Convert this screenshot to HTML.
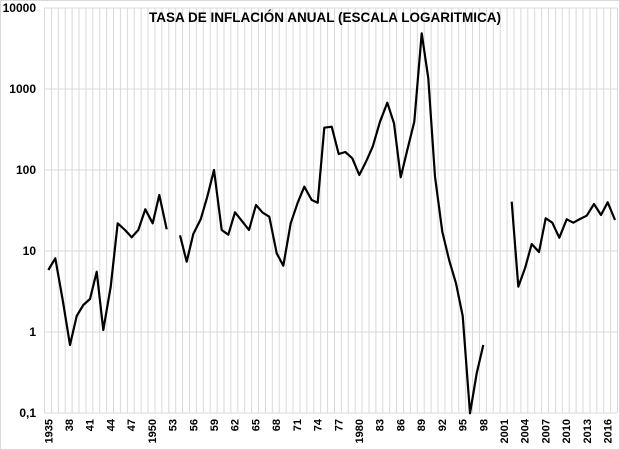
<!DOCTYPE html>
<html><head><meta charset="utf-8"><style>
html,body{margin:0;padding:0;background:#fff;}
svg{display:block;font-family:"Liberation Sans",sans-serif;}
</style></head><body>
<svg width="620" height="450" viewBox="0 0 620 450" xmlns="http://www.w3.org/2000/svg">
<defs>
<pattern id="vp" x="44" y="0" width="6.904" height="450" patternUnits="userSpaceOnUse">
<rect x="0" y="0" width="1" height="450" fill="#d9d9d9"/>
</pattern>
</defs>
<rect x="0.5" y="0.5" width="619" height="449" fill="#fff" stroke="#d9d9d9"/>
<rect x="44" y="8" width="574" height="405" fill="url(#vp)"/>
<g stroke="#d9d9d9" stroke-width="1">
<line x1="44" y1="8" x2="617" y2="8"/>
<line x1="44" y1="89" x2="617" y2="89"/>
<line x1="44" y1="170" x2="617" y2="170"/>
<line x1="44" y1="251" x2="617" y2="251"/>
<line x1="44" y1="332" x2="617" y2="332"/>
<line x1="44" y1="413" x2="617" y2="413"/>
</g>
<g font-size="12" font-weight="bold" text-anchor="end" fill="#000">
<text x="36" y="12">10000</text>
<text x="36" y="93">1000</text>
<text x="36" y="174">100</text>
<text x="36" y="255">10</text>
<text x="36" y="336">1</text>
<text x="36" y="417">0,1</text>
</g>
<text x="325" y="22" font-size="13.5" font-weight="bold" text-anchor="middle">TASA DE INFLACIÓN ANUAL (ESCALA LOGARITMICA)</text>
<g id="xl" font-size="11" font-weight="bold" text-anchor="end"></g>
<g fill="none" stroke="#000" stroke-width="2.2" stroke-linejoin="round">
<polyline points="48.3,270 55.3,258.3 62.7,300 70,345 76.7,316 83.3,305 90,299 96.7,271.7 103.3,330 110.7,286.7 117.7,223.3 125,230 131.7,237.3 138.3,230 145.3,209.3 152.7,223.3 159.3,195 166.7,229.3"/>
<polyline points="180,235.3 186.7,261.7 193.3,234 200.7,219.3 207.3,196.7 214,170 221.7,230 228.3,234.7 235,212.3 241.7,220.7 249,230 256,205 262.7,212.7 269.3,216.7 276.7,253.3 283.3,265.7 290.7,223.3 297.7,202.7 304.3,186.7 311.7,200 317.7,202.7 324.3,127.7 331.7,126.7 338.7,154 345.3,152 352.3,158.3 359.3,175 366,161.7 372.7,146.7 380,121.7 387.3,102.7 394,123.3 400.7,177.3 407.3,150 414.3,121.7 421.7,33.3 428.3,78.3 435,176.7 442.3,231.7 449.3,260.7 456,283.3 462.7,316 470,413.3 476.7,373.3 483.3,345"/>
<polyline points="511.7,201.7 518.3,286.7 525,268.3 531.7,244 539,252 545.7,218.3 552.3,222.7 559.3,237.7 566.7,219.3 573.3,222.7 580,219 586.7,215.7 594,204 601,215 607.7,202.3 615,220"/>
</g>
</svg>
<script>
var ns="http://www.w3.org/2000/svg";
var xl=document.getElementById("xl");
for(var y=1935;y<=2016;y+=3){var x=48.3+(y-1935)*6.904+4;
var s=(y==1935||y==1950||y==1980||y>=2000)?String(y):String(y).slice(2);
var t=document.createElementNS(ns,"text");t.setAttribute("transform","translate("+x+",419) rotate(-90)");
t.textContent=s;xl.appendChild(t);}
</script>
</body></html>
